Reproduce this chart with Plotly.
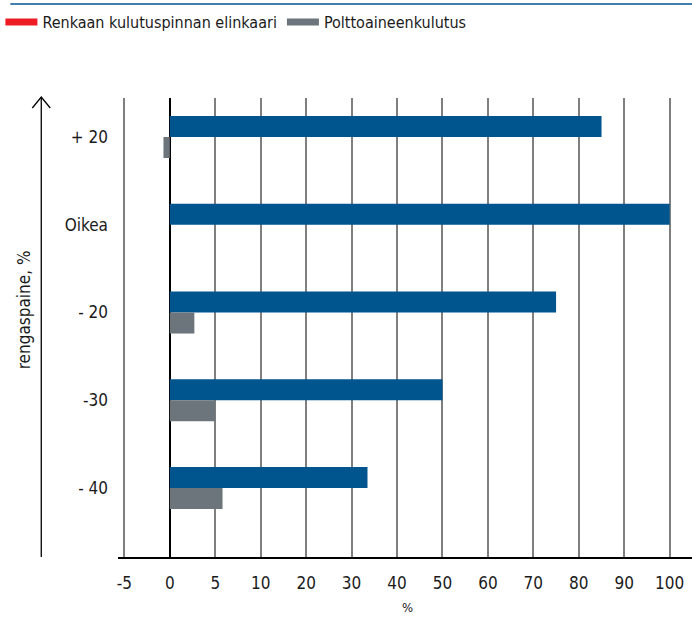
import numpy as np
import plotly.graph_objects as go

# ---- data ----
categories = ["+ 20", "Oikea", "- 20", "-30", "- 40"]
tread_life = [85, 100, 75, 50, 33.5]        # Renkaan kulutuspinnan elinkaari
fuel_use = [-0.7, 0, 2.7, 5, 5.8]           # Polttoaineenkulutus
x_tick_values = [-5, 0, 5, 10, 20, 30, 40, 50, 60, 70, 80, 90, 100]
x_tick_labels = [str(v) for v in x_tick_values]
series_names = ["Renkaan kulutuspinnan elinkaari", "Polttoaineenkulutus"]

# ---- style ----
W, H = 692, 617
ML, MR, MT, MB = 116, 0, 98, 60
BLUE = "#00558f"
GRAY = "#6b757b"
RED = "#ed1c24"
TXT = "#1a1a1a"
FONT = "Liberation Sans Narrow, DejaVu Sans Condensed, Roboto, sans-serif"

# the chart's value axis has evenly spaced ticks with a change of step at 10
tick_idx = np.arange(len(x_tick_values)) - 1.0


def xscale(v):
    return np.interp(np.asarray(v, dtype=float), x_tick_values, tick_idx)


pw, ph = W - ML - MR, H - MT - MB


def px_x(p):
    return (p - ML) / pw


def px_y(p):
    return (H - MB - p) / ph


fig = go.Figure()
fig.add_trace(go.Bar(
    y=categories, x=xscale(tread_life), orientation="h", marker_color=BLUE,
    marker_line_width=0,
    name=series_names[0], showlegend=False, customdata=tread_life,
    hovertemplate="%{y}: %{customdata}<extra></extra>"))
fig.add_trace(go.Bar(
    y=categories, x=xscale(fuel_use), orientation="h", marker_color=GRAY,
    marker_line_width=0,
    name=series_names[1], showlegend=False, customdata=fuel_use,
    hovertemplate="%{y}: %{customdata}<extra></extra>"))
# legend swatches
for nm, col in zip(series_names, [RED, GRAY]):
    fig.add_trace(go.Scatter(x=[None], y=[None], mode="lines", name=nm,
                             line=dict(color=col, width=7), showlegend=True))

cat_px = 87.76
px_per_tick = 45.6
zero_px = 168
fig.update_layout(
    width=W, height=H,
    margin=dict(l=ML, r=MR, t=MT, b=MB, pad=0),
    paper_bgcolor="white", plot_bgcolor="white",
    font=dict(family=FONT, size=17, color=TXT),
    barmode="group", bargap=0.521, bargroupgap=0,
    showlegend=True,
    legend=dict(orientation="h", x=px_x(-2), y=px_y(5), xanchor="left", yanchor="top",
                font=dict(family=FONT, size=16, color=TXT), itemwidth=32,
                bgcolor="rgba(0,0,0,0)"),
    xaxis=dict(
        range=[(ML - zero_px) / px_per_tick, (W - zero_px) / px_per_tick],
        tickmode="array", tickvals=xscale(x_tick_values), ticktext=x_tick_labels,
        showgrid=True, gridcolor="#7f7f7f", gridwidth=1.5,
        zeroline=True, zerolinecolor="#000000", zerolinewidth=1.5,
        showline=True, linecolor="#000000", linewidth=1.5,
        ticks="", ticklabelstandoff=10, tickfont=dict(family=FONT, size=17, color=TXT),
        fixedrange=True,
    ),
    yaxis=dict(
        type="category", categoryorder="array", categoryarray=categories,
        range=[4 + (557 - 488) / cat_px, -(137 - 98) / cat_px],
        showgrid=False, zeroline=False, showline=False, ticks="",
        ticklabelstandoff=9, tickfont=dict(family=FONT, size=17, color=TXT),
        fixedrange=True,
    ),
)

# y axis title and x axis title
fig.add_annotation(text="rengaspaine, %", xref="paper", yref="paper",
                   x=px_x(22), y=px_y(310), textangle=-90, showarrow=False,
                   font=dict(family=FONT, size=17, color=TXT),
                   xanchor="center", yanchor="middle")
fig.add_annotation(text="%", xref="paper", yref="paper",
                   x=px_x(407), y=px_y(617), showarrow=False,
                   font=dict(family=FONT, size=13, color=TXT),
                   xanchor="center", yanchor="bottom")

# vertical arrow on the left
fig.add_shape(type="line", xref="paper", yref="paper",
              x0=px_x(39), x1=px_x(39), y0=px_y(557), y1=px_y(97),
              line=dict(color="#000000", width=1.3))
fig.add_shape(type="path", xref="paper", yref="paper",
              path=f"M {px_x(30)} {px_y(108)} L {px_x(39)} {px_y(97)} L {px_x(48)} {px_y(108)}",
              line=dict(color="#000000", width=1.3))
# top rule
fig.add_shape(type="line", xref="paper", yref="paper",
              x0=px_x(8), x1=px_x(692), y0=px_y(4), y1=px_y(4),
              line=dict(color=BLUE, width=1.5))

fig.write_html("out.html", config={"displayModeBar": False},
               post_script="document.body.style.margin='0';")
